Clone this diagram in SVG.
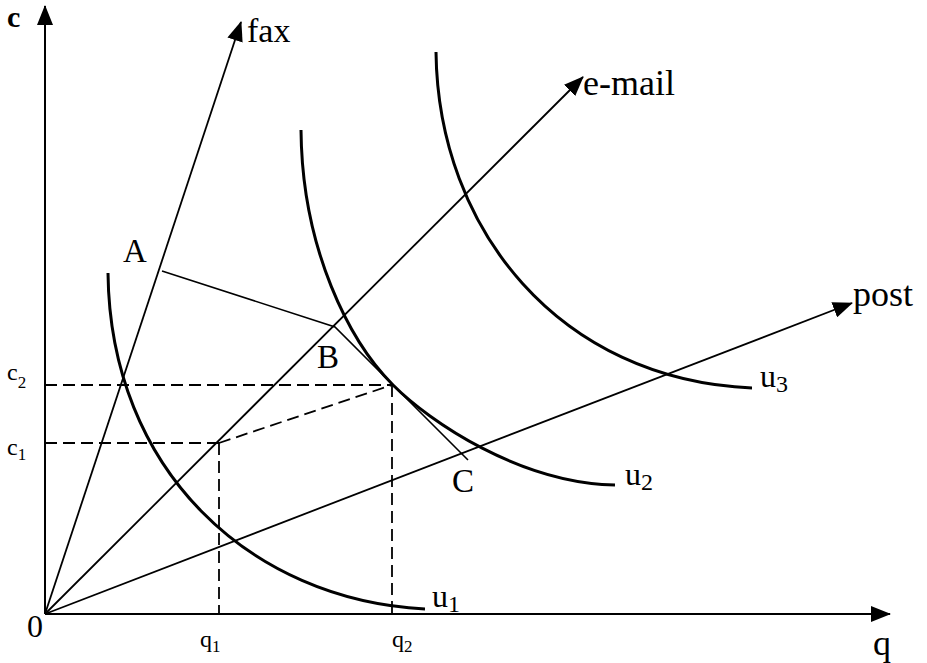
<svg xmlns="http://www.w3.org/2000/svg" width="927" height="663" viewBox="0 0 927 663">
<style>
.ax{stroke:#000;stroke-width:2;fill:none}
.ray{stroke:#000;stroke-width:1.8;fill:none}
.curve{stroke:#000;stroke-width:3;fill:none}
.budget{stroke:#000;stroke-width:1.6;fill:none}
.dash{stroke:#000;stroke-width:1.8;fill:none;stroke-dasharray:12 6}
text{font-family:"Liberation Serif","Times New Roman",serif;fill:#000}
.lbl{font-size:34px}
.sm{font-size:24px}
.sub{font-size:17px}
</style>
<defs>
<marker id="arr" viewBox="0 0 20 16" refX="19" refY="8" markerWidth="20" markerHeight="16" markerUnits="userSpaceOnUse" orient="auto">
<path d="M0,0 L20,8 L0,16 z" fill="#000"/>
</marker>
</defs>
<rect width="927" height="663" fill="#fff"/>
<g id="connectors">
<line class="ax" x1="45" y1="614" x2="45" y2="6" marker-end="url(#arr)"/>
<line class="ax" x1="45" y1="614" x2="890" y2="614" marker-end="url(#arr)"/>
<line class="ray" x1="45" y1="614" x2="241" y2="22" marker-end="url(#arr)"/>
<line class="ray" x1="45" y1="614" x2="583" y2="77" marker-end="url(#arr)"/>
<line class="ray" x1="45" y1="614" x2="852" y2="303" marker-end="url(#arr)"/>
<polyline class="budget" points="162,271 335,327 468,460"/>
<line class="dash" x1="45" y1="385" x2="392" y2="385"/>
<line class="dash" x1="45" y1="443" x2="219" y2="443"/>
<line class="dash" x1="219" y1="443" x2="219" y2="614"/>
<line class="dash" x1="392" y1="385" x2="392" y2="614"/>
<line class="dash" x1="219" y1="443" x2="392" y2="385"/>
</g>
<g id="u1">
<path class="curve" d="M108,273 C110,470 250,600 425,609"/>
<text class="lbl" x="432" y="607" style="font-size:32px">u<tspan style="font-size:24px" dy="5">1</tspan></text>
</g>
<g id="u2">
<path class="curve" d="M301,130 C302,250 350,342 393,385 C430,422 520,483 615,485"/>
<text class="lbl" x="625" y="485" style="font-size:32px">u<tspan style="font-size:24px" dy="5">2</tspan></text>
</g>
<g id="u3">
<path class="curve" d="M436,52 C438,230 560,380 752,388"/>
<text class="lbl" x="760" y="387" style="font-size:32px">u<tspan style="font-size:24px" dy="5">3</tspan></text>
</g>
<g id="labels">
<text class="lbl" x="7" y="27" font-weight="bold" style="font-size:30px">c</text>
<text class="lbl" x="247" y="42">fax</text>
<text class="lbl" x="583" y="95" style="font-size:36px">e-mail</text>
<text class="lbl" x="853" y="306" style="font-size:36px">post</text>
<text class="lbl" x="123" y="262" style="font-size:33px">A</text>
<text class="lbl" x="317" y="368" style="font-size:33px">B</text>
<text class="lbl" x="452" y="492" style="font-size:33px">C</text>
<text class="sm" x="7" y="380">c<tspan class="sub" dy="8">2</tspan></text>
<text class="sm" x="7" y="455">c<tspan class="sub" dy="5">1</tspan></text>
<text class="sm" x="200" y="647">q<tspan class="sub" dy="5">1</tspan></text>
<text class="sm" x="392" y="647">q<tspan class="sub" dy="5">2</tspan></text>
<text class="lbl" x="27" y="637" style="font-size:32px">0</text>
<text class="lbl" x="873" y="655" style="font-size:36px">q</text>
</g>
</svg>
